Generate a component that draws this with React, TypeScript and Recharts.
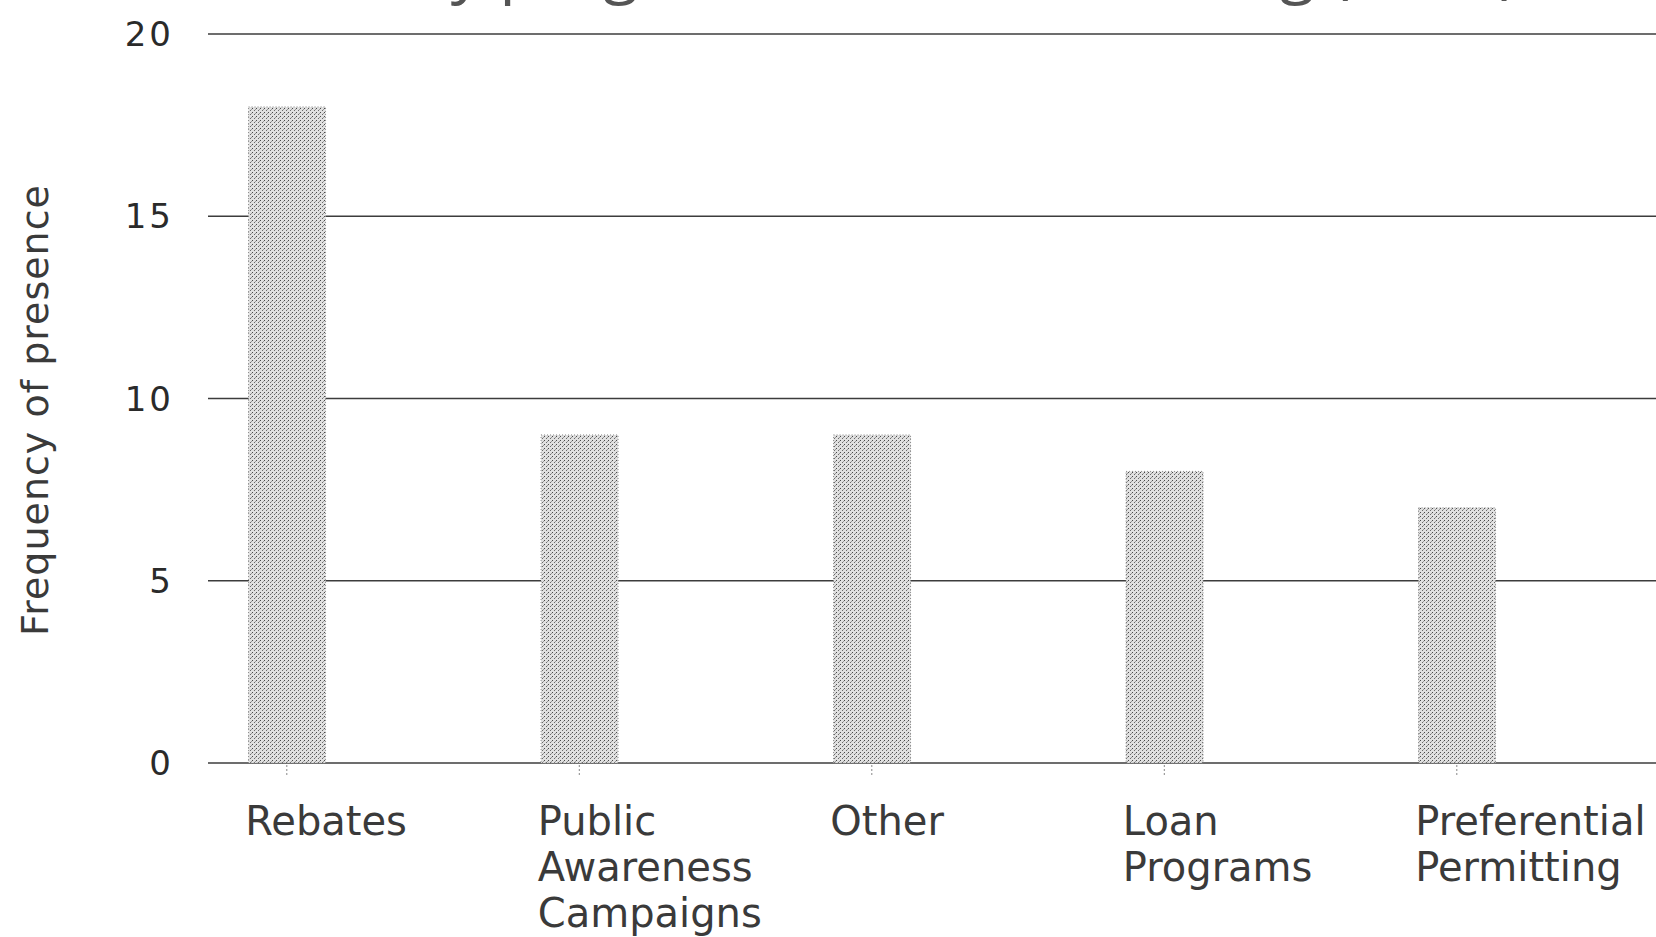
import React from "react";
import { BarChart, Bar, XAxis, YAxis, CartesianGrid } from "recharts";

const categories: string[][] = [
  ["Rebates"],
  ["Public", "Awareness", "Campaigns"],
  ["Other"],
  ["Loan", "Programs"],
  ["Preferential", "Permitting"],
];
const frequencies: number[] = [18, 9, 9, 8, 7];
const yTicks: number[] = [0, 5, 10, 15, 20];
const yLabel = "Frequency of presence";
const title = "Key programs for clean cooking (n=20)";

const data = frequencies.map((v, i) => ({ idx: i, value: v }));

const BAR_SIZE = 77;

const XTick = (props: any) => {
  const { x, y, payload } = props;
  const lines = categories[payload.value] || [];
  return (
    <text
      x={x - BAR_SIZE / 2 - 3}
      y={y}
      textAnchor="start"
      fontFamily="DejaVu Sans"
      fontSize={40}
      fill="#3a3a3a"
    >
      {lines.map((l, i) => (
        <tspan key={i} x={x - BAR_SIZE / 2 - 3} dy={i === 0 ? 58 : 46}>
          {l}
        </tspan>
      ))}
    </text>
  );
};

const YTick = (props: any) => {
  const { y, payload } = props;
  return (
    <text
      x={174}
      y={y + 12}
      textAnchor="end"
      fontFamily="DejaVu Sans"
      fontSize={34}
      letterSpacing={3}
      fill="#2a2a2a"
    >
      {payload.value}
    </text>
  );
};

const YLabel = () => (
  <text
    transform="translate(48,410) rotate(-90)"
    textAnchor="middle"
    fontFamily="DejaVu Sans"
    fontSize={38}
    letterSpacing={1}
    fill="#3a3a3a"
  >
    {yLabel}
  </text>
);

export default function App() {
  return (
    <div
      style={{
        position: "absolute",
        left: 0,
        top: 0,
        width: 1656,
        height: 937,
        overflow: "hidden",
        background: "#ffffff",
      }}
    >
      <svg
        width={1656}
        height={40}
        style={{ position: "absolute", left: 0, top: 0 }}
      >
        <text
          x={1518}
          y={-9}
          textAnchor="end"
          fontFamily="Open Sans"
          fontSize={64}
          fill="#555"
        >
          {title}
        </text>
      </svg>
      <BarChart
        width={1656}
        height={937}
        data={data}
        margin={{ top: 34, right: 0, bottom: 144, left: 0 }}
      >
        <defs>
          <pattern
            id="stipple"
            width="4"
            height="4"
            patternUnits="userSpaceOnUse"
          >
            <rect width="4" height="4" fill="#e0e0e0" />
            <rect x="0" y="0" width="1" height="1" fill="#4a4a4a" />
            <rect x="2" y="2" width="1" height="1" fill="#6a6a6a" />
            <rect x="3" y="1" width="1" height="1" fill="#9a9a9a" />
          </pattern>
        </defs>
        <CartesianGrid
          horizontal={true}
          vertical={false}
          stroke="#3c3c3c"
          strokeWidth={1.5}
        />
        <XAxis
          type="number"
          dataKey="idx"
          domain={[-0.2694, 4.681]}
          allowDataOverflow
          ticks={[0, 1, 2, 3, 4]}
          interval={0}
          axisLine={false}
          tickLine={{ stroke: "#888", strokeDasharray: "2 2" }}
          tickSize={12}
          tick={<XTick />}
        />
        <YAxis
          width={208}
          domain={[0, 20]}
          ticks={yTicks}
          axisLine={false}
          tickLine={false}
          tick={<YTick />}
          label={{ content: () => <YLabel /> }}
        />
        <Bar
          dataKey="value"
          barSize={BAR_SIZE}
          fill="url(#stipple)"
          stroke="#8a8a8a"
          strokeDasharray="1 2"
          strokeWidth={1}
          isAnimationActive={false}
        />
      </BarChart>
    </div>
  );
}
